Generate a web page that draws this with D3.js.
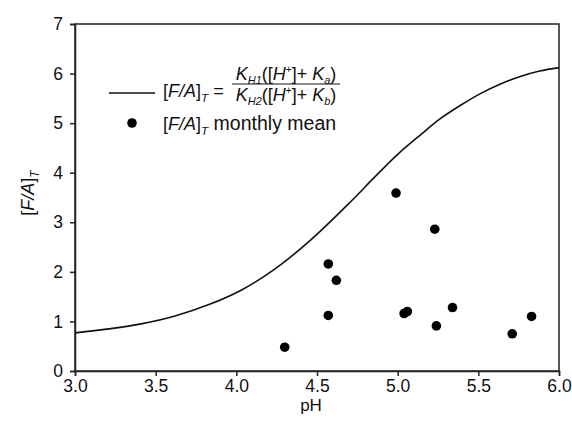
<!DOCTYPE html>
<html>
<head>
<meta charset="utf-8">
<script src="https://cdn.jsdelivr.net/npm/d3@7"></script>
<style>
  body { margin: 0; background: #fff; }
  text { font-family: "Liberation Sans", Arial, sans-serif; fill: #111; }
</style>
</head>
<body>
<div id="main-frame"></div>
<script>
// model curve
const curvePH = [3.0, 3.21, 3.41, 3.62, 3.83, 4.03, 4.24, 4.46, 4.71, 4.86, 5.01, 5.14, 5.26, 5.39, 5.51, 5.63, 5.76, 5.88, 6.0];
const curveFA = [0.77, 0.85, 0.95, 1.11, 1.34, 1.63, 2.06, 2.64, 3.42, 3.92, 4.40, 4.76, 5.08, 5.36, 5.59, 5.78, 5.94, 6.05, 6.12];

// monthly means
const monthPH = [4.30, 4.57, 4.62, 4.57, 4.99, 5.23, 5.04, 5.06, 5.34, 5.24, 5.71, 5.83];
const monthFA = [0.48, 2.16, 1.83, 1.12, 3.59, 2.86, 1.16, 1.20, 1.28, 0.91, 0.75, 1.10];

const xTicks = [3.0, 3.5, 4.0, 4.5, 5.0, 5.5, 6.0];
const yTicks = [0, 1, 2, 3, 4, 5, 6, 7];

const margin = { top: 24, right: 13, bottom: 55, left: 75 };
const width = 572 - margin.left - margin.right;
const height = 426 - margin.top - margin.bottom;

const root = d3.select("#main-frame")
  .append("svg")
  .attr("width", 572)
  .attr("height", 426);

const svg = root.append("g")
  .attr("transform", `translate(${margin.left}, ${margin.top})`);

const x = d3.scaleLinear().domain([3, 6]).range([0, width]);
const y = d3.scaleLinear().domain([0, 7]).range([height, 0]);

// frame
svg.append("rect")
  .attr("width", width)
  .attr("height", height)
  .attr("fill", "none")
  .attr("stroke", "#222")
  .attr("stroke-width", 1.5);

const xAxis = svg.append("g")
  .attr("transform", `translate(0, ${height})`)
  .call(d3.axisBottom(x).tickValues(xTicks).tickFormat(d3.format(".1f")).tickSize(5).tickPadding(4));

const yAxis = svg.append("g")
  .call(d3.axisLeft(y).tickValues(yTicks).tickFormat(d3.format("d")).tickSize(5).tickPadding(7));

[xAxis, yAxis].forEach(a => {
  a.select(".domain").attr("stroke", "#222").attr("stroke-width", 1.5);
  a.selectAll(".tick line").attr("stroke", "#222").attr("stroke-width", 1.5);
  a.selectAll(".tick text")
    .attr("font-size", 17.5)
    .attr("font-family", "Liberation Sans, Arial, sans-serif")
    .attr("fill", "#111");
});

// axis titles
root.append("text")
  .attr("x", margin.left + width / 2 - 6)
  .attr("y", 411)
  .attr("text-anchor", "middle")
  .attr("font-size", 17)
  .text("pH");

const yl = root.append("text")
  .attr("transform", "translate(34, 193) rotate(-90)")
  .attr("text-anchor", "middle")
  .attr("font-size", 18);
yl.append("tspan").text("[");
yl.append("tspan").attr("font-style", "italic").text("F/A");
yl.append("tspan").text("]");
yl.append("tspan").attr("font-style", "italic").attr("font-size", 12).attr("dy", 5).text("T");

// curve
const line = d3.line()
  .x((d, i) => x(curvePH[i]))
  .y((d, i) => y(curveFA[i]))
  .curve(d3.curveCatmullRom);

svg.append("path")
  .datum(curvePH)
  .attr("d", line)
  .attr("fill", "none")
  .attr("stroke", "#111")
  .attr("stroke-width", 1.6);

// monthly points
svg.selectAll("circle")
  .data(monthPH)
  .enter()
  .append("circle")
  .attr("cx", d => x(d))
  .attr("cy", (d, i) => y(monthFA[i]))
  .attr("r", 4.8)
  .attr("fill", "#000");

// legend
const leg = root.append("g");
leg.append("line")
  .attr("x1", 109).attr("x2", 155)
  .attr("y1", 93).attr("y2", 93)
  .attr("stroke", "#111").attr("stroke-width", 1.6);

function faT(t, size) {
  t.append("tspan").text("[");
  t.append("tspan").attr("font-style", "italic").text("F/A");
  t.append("tspan").text("]");
  t.append("tspan").attr("font-style", "italic").attr("font-size", size * 0.65).attr("dy", 5).text("T");
}

const eq = leg.append("text").attr("x", 163).attr("y", 97).attr("font-size", 18);
faT(eq, 18);
eq.append("tspan").attr("dy", -5).text(" =");

function kTerm(t, sub, k) {
  t.append("tspan").attr("font-style", "italic").text("K");
  t.append("tspan").attr("font-style", "italic").attr("font-size", 11).attr("dy", 4).text(sub);
  t.append("tspan").attr("dy", -4).text("([");
  t.append("tspan").attr("font-style", "italic").text("H");
  t.append("tspan").attr("font-size", 10).attr("dy", -7).text("+");
  t.append("tspan").attr("dy", 7).text("]+ ");
  t.append("tspan").attr("font-style", "italic").text("K");
  t.append("tspan").attr("font-style", "italic").attr("font-size", 11).attr("dy", 4).text(k);
  t.append("tspan").attr("dy", -4).text(")");
}

const num = leg.append("text").attr("x", 286).attr("y", 80).attr("text-anchor", "middle").attr("font-size", 18);
kTerm(num, "H1", "a");
const den = leg.append("text").attr("x", 286).attr("y", 101).attr("text-anchor", "middle").attr("font-size", 18);
kTerm(den, "H2", "b");

leg.append("line")
  .attr("x1", 232).attr("x2", 340)
  .attr("y1", 84).attr("y2", 84)
  .attr("stroke", "#111").attr("stroke-width", 1);

leg.append("circle")
  .attr("cx", 132).attr("cy", 123).attr("r", 4.8).attr("fill", "#000");

const mm = leg.append("text").attr("x", 163).attr("y", 130).attr("font-size", 18);
faT(mm, 18);
mm.append("tspan").attr("dy", -5).attr("font-size", 19.5).text(" monthly mean");
</script>
</body>
</html>
